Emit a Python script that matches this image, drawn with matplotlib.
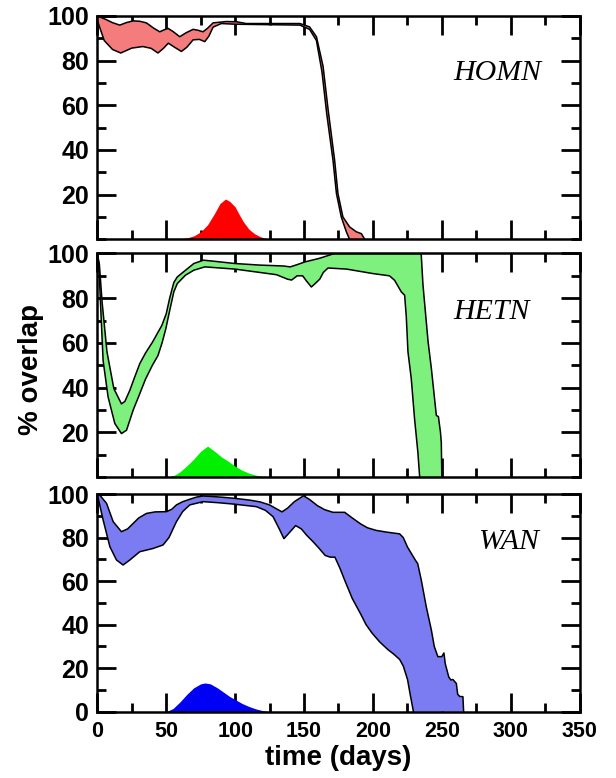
import numpy as np
import matplotlib
matplotlib.use('Agg')
import matplotlib.pyplot as plt
from matplotlib.ticker import MultipleLocator

# ---- data (time in days, % overlap) ----
# HOMN band
homn_up_x = [0, 6, 11, 16.3, 21, 26, 31, 35.6, 41, 45.3, 48.5, 51.4, 55, 59.8, 64.5, 69.5, 73, 76.7, 80, 84,
             93.6, 101, 108, 147, 154, 159, 163.8, 167.4, 172.2, 174.6, 178.2, 183.1, 188, 191.6, 194]
homn_up_y = [100, 98.5, 97, 95.9, 97, 97.8, 97.6, 96.9, 94.5, 92.9, 93.8, 94.4, 93, 90.7, 92.5, 94, 93.6, 92.9, 94.5, 96.9,
             97.5, 97.4, 96.6, 96.6, 95.1, 90.7, 77.5, 58.4, 35.4, 20.5, 10, 5.5, 3.3, 2.5, 0]
homn_lo_x = [0, 5, 11, 17, 25, 33, 39, 44, 48, 51.5, 56, 61, 65, 69.5, 74, 78, 81, 84, 90, 100,
             147, 154, 159, 163, 166.5, 171, 173.5, 177, 180.7, 183]
homn_lo_y = [98, 89, 85, 83.4, 85.6, 86.3, 85.5, 83.4, 85.5, 87.8, 86, 84.1, 86, 89.3, 89.5, 88.5, 91, 95, 96.6, 96.3,
             95.9, 94, 89, 75, 56, 35.4, 20.5, 10, 3.3, 0]
homn_bump_x = [55, 60, 65, 70, 75, 80, 85, 89, 93, 96, 100, 103, 106, 110, 114, 118, 122, 125]
homn_bump_y = [0, 0.2, 0.6, 1.5, 3.3, 6.5, 11.5, 16, 18, 17, 14.5, 11, 7.8, 4.5, 2.5, 1.2, 0.4, 0]

# HETN band
hetn_up_x = [0, 1.5, 3.5, 7, 12, 17.5, 20, 23.6, 27, 30.8, 35, 40, 46.8, 50, 52.5, 55.5, 58, 64, 70, 77, 85, 100, 118,
             135, 140, 145, 150.5, 161, 168.6, 172, 235, 236.3, 240, 242.4, 246, 247.5, 249, 249.6, 250]
hetn_up_y = [100, 95, 78, 56, 39.5, 32.7, 33.8, 38.8, 44.5, 50.7, 55.5, 60.3, 67.8, 73, 80, 87, 89.5, 92.5, 95.5, 97, 96.5, 95.5, 94.8,
             94.4, 94, 95, 96.2, 97.8, 99.3, 100, 100, 86, 60.6, 48.5, 27.5, 27, 20, 15.4, 0]
hetn_lo_x = [0, 1, 2.5, 4.2, 7.8, 12.7, 17.5, 21.2, 26, 30, 35, 40, 44, 47, 49.7, 52, 55.5, 58, 64, 70, 78, 100, 118,
             130, 138, 141, 145, 149, 152, 155.3, 158, 161.4, 164, 167.4, 181, 200, 212, 215.7, 220.6, 223,
             224.2, 225.4, 227.8, 230.2, 232.6, 233.9]
hetn_lo_y = [99, 96, 75, 52, 35.8, 23.9, 19.4, 20.9, 29.9, 36, 43.8, 50, 54.3, 60, 66.3, 73, 82.8, 86.5, 90.3, 92.5, 94, 93, 91.5,
             90.5, 88.5, 88.1, 90, 90, 87.5, 85, 86.5, 88.5, 91.5, 93.5, 93, 91, 90, 88, 82.8, 81.3,
             71.6, 56, 44, 26, 11, 0]
hetn_bump_x = [52, 56, 60, 65, 70, 75, 80, 85, 90, 95, 100, 105, 110, 115, 120, 125]
hetn_bump_y = [0, 0.8, 2.3, 5, 8, 11.5, 13.8, 11.5, 9, 7, 4.8, 3, 1.7, 0.8, 0.3, 0]

# WAN band
wan_up_x = [0, 1.8, 6.7, 11.5, 17.5, 22, 26, 30, 35.7, 42, 50.2, 54, 57.4, 62, 67.1, 72, 76.7, 85, 91.2, 100,
            110.6, 118, 125, 130, 134, 138, 143, 149.6, 154, 159.6, 165, 171, 179.5, 185, 191, 196, 202.3,
            210, 219.4, 222, 225.1, 230.8, 232.5, 235.1, 238.7, 242.4, 244.5, 247.1, 250, 251.5, 252.5,
            255, 256.5, 258, 260.5, 261.5, 263, 265.3, 265.8]
wan_up_y = [100, 99.5, 95.7, 87.3, 82.7, 84, 86.5, 89, 91.1, 91.8, 91.9, 93, 95, 96.5, 97.6, 98.6, 99.1, 98.8, 98.5, 98,
            97.2, 96.4, 95, 93.2, 91.8, 93.5, 96.5, 99.2, 97.5, 94.7, 92.8, 91.6, 91.6, 89, 86.3, 84.5, 83.3,
            82.5, 81.7, 80, 75.6, 69.6, 68, 60.4, 48.2, 37.5, 30, 25.3, 25.3, 27, 22,
            16, 14.6, 14.8, 13, 8, 7, 6.9, 0]
wan_lo_x = [0, 1, 4.2, 9.1, 13.9, 18.7, 23.6, 30.8, 40.5, 47.7, 52, 57.4, 62, 67.1, 76.7, 88, 98.5, 115.4,
            122, 127.5, 132, 135.4, 139, 143.9, 148, 152, 156.7, 161, 165.3, 169, 172.4, 176, 179.5, 185,
            191, 195, 199.5, 205, 210.9, 215, 219.4, 222, 225.1, 227, 229.4]
wan_lo_y = [99.5, 97, 88.1, 75.8, 69.7, 67.4, 69.7, 73.5, 75, 76.6, 80, 87.3, 92, 95, 96.5, 96, 95.4, 94.2,
            92.5, 89.6, 84, 79.5, 82, 85.5, 84, 81, 78, 75, 71.8, 71, 71, 66, 60.4, 52,
            45, 40, 36, 32, 28.5, 26.5, 24, 21, 14.8, 8, 0]
wan_bump_x = [50, 55, 60, 65, 70, 75, 78, 82, 87, 92, 96, 100, 105, 110, 115, 120, 125]
wan_bump_y = [0, 1.5, 4.5, 8, 11, 12.8, 13.2, 12.8, 11, 8.8, 7, 5.6, 3.8, 2.4, 1.3, 0.5, 0]

panels = [
    ('HOMN', homn_up_x, homn_up_y, homn_lo_x, homn_lo_y, homn_bump_x, homn_bump_y, '#f47c7c', '#ff0000'),
    ('HETN', hetn_up_x, hetn_up_y, hetn_lo_x, hetn_lo_y, hetn_bump_x, hetn_bump_y, '#7ef07e', '#00f000'),
    ('WAN', wan_up_x, wan_up_y, wan_lo_x, wan_lo_y, wan_bump_x, wan_bump_y, '#7c7cf2', '#0000f5'),
]

SANS = 'Liberation Sans'
plt.rcParams['font.family'] = SANS
plt.rcParams['font.weight'] = 'bold'

fig = plt.figure(figsize=(6.16, 7.78), dpi=100)

# axes boxes in figure fractions (left, bottom, width, height)
boxes = [(0.158, 0.6925, 0.783, 0.287),
         (0.158, 0.3870, 0.783, 0.2872),
         (0.158, 0.0852, 0.783, 0.2798)]
label_pos = [(0.921, 0.746), (0.897, 0.739), (0.916, 0.781)]

for i, (name, ux, uy, lx, ly, bx, by, band_c, bump_c) in enumerate(panels):
    ax = fig.add_axes(boxes[i])
    # band between the two curves
    px = np.concatenate([ux, lx[::-1]])
    py = np.concatenate([uy, ly[::-1]])
    ax.fill(px, py, facecolor=band_c, edgecolor='none', zorder=2)
    ax.plot(ux, uy, color='black', lw=1.1, zorder=3)
    ax.plot(lx, ly, color='black', lw=1.1, zorder=3)
    # onset distribution
    ax.fill_between(bx, by, 0, color=bump_c, lw=0, zorder=2)

    ax.set_xlim(0, 350)
    ax.set_ylim(0, 100)
    ax.xaxis.set_major_locator(MultipleLocator(50))
    ax.xaxis.set_minor_locator(MultipleLocator(25))
    if i == 2:
        ax.set_yticks([0, 20, 40, 60, 80, 100])
    else:
        ax.set_yticks([20, 40, 60, 80, 100])
    ax.yaxis.set_minor_locator(MultipleLocator(10))
    ax.tick_params(which='both', direction='in', top=True, right=True, width=2)
    ax.tick_params(which='major', length=13.5)
    ax.tick_params(which='minor', length=6.5)
    ax.tick_params(axis='y', which='major', pad=6, labelsize=18)
    ax.tick_params(axis='x', which='major', pad=7, labelsize=15.5)
    if i < 2:
        ax.tick_params(axis='x', labelbottom=False)
    for sp in ax.spines.values():
        sp.set_linewidth(1.8)
        sp.set_zorder(4)

    ax.text(label_pos[i][0], label_pos[i][1], name, transform=ax.transAxes,
            ha='right', va='center', fontsize=21.5, style='italic', weight='normal',
            family='Liberation Serif')

    if i == 2:
        ax.set_xlabel('time (days)', fontsize=20, fontweight='bold', labelpad=2)

fig.text(0.051, 0.525, '% overlap', rotation=90, ha='center', va='center',
         fontsize=20, fontweight='bold')

fig.savefig('out.png', dpi=100)
